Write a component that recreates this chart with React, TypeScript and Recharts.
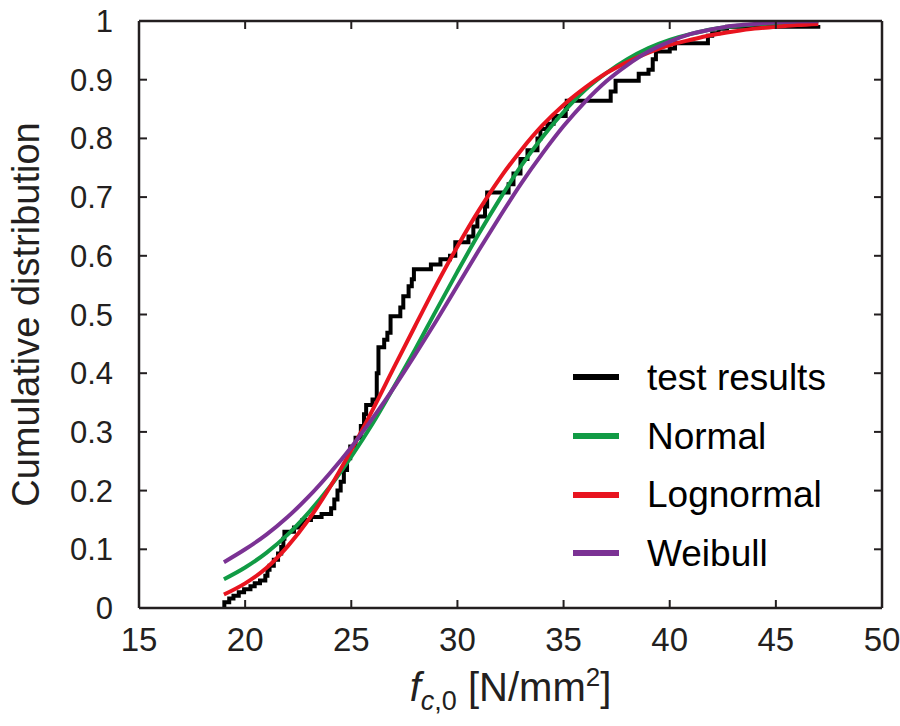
import React from 'react';
import { LineChart, Line, XAxis, YAxis, Legend } from 'recharts';

// Empirical CDF of test results (jump positions and cumulative values)
const testX = [19.0, 19.02, 19.25, 19.45, 19.7, 19.95, 20.25, 20.45, 20.7, 20.95, 21.05, 21.15, 21.35, 21.55, 21.7, 21.8, 21.85, 22.3, 22.55, 22.7, 23.1, 23.6, 24.05, 24.2, 24.35, 24.5, 24.65, 24.8, 24.95, 25.2, 25.45, 25.6, 25.7, 26.0, 26.2, 26.28, 26.55, 26.7, 26.85, 27.31, 27.45, 27.7, 27.85, 27.95, 28.75, 29.2, 29.65, 29.9, 30.52, 30.75, 30.94, 31.3, 31.4, 32.41, 32.64, 32.97, 33.3, 33.77, 33.91, 34.24, 34.53, 35.1, 35.15, 37.22, 37.45, 38.54, 39.0, 39.2, 39.35, 40.0, 40.25, 41.8, 42.0, 42.3, 42.7, 47.0];
const testY = [0, 0.01, 0.016, 0.021, 0.027, 0.032, 0.037, 0.042, 0.047, 0.055, 0.065, 0.072, 0.082, 0.093, 0.104, 0.118, 0.13, 0.137, 0.143, 0.15, 0.155, 0.16, 0.17, 0.185, 0.2, 0.215, 0.235, 0.255, 0.275, 0.29, 0.31, 0.33, 0.346, 0.355, 0.4, 0.444, 0.457, 0.469, 0.497, 0.512, 0.531, 0.548, 0.56, 0.577, 0.585, 0.594, 0.6, 0.623, 0.633, 0.65, 0.667, 0.684, 0.708, 0.722, 0.74, 0.765, 0.78, 0.8, 0.816, 0.825, 0.838, 0.85, 0.864, 0.88, 0.898, 0.91, 0.917, 0.935, 0.948, 0.953, 0.962, 0.975, 0.979, 0.987, 0.99, 0.993];

// Fitted distribution curves, read at x = 19..47
const fitX = [19, 20, 21, 22, 23, 24, 25, 26, 27, 28, 29, 30, 31, 32, 33, 34, 35, 36, 37, 38, 39, 40, 41, 42, 43, 44, 45, 46, 47];
const normalY = [0.049, 0.069, 0.094, 0.125, 0.163, 0.207, 0.258, 0.314, 0.376, 0.44, 0.507, 0.573, 0.637, 0.697, 0.753, 0.802, 0.845, 0.882, 0.911, 0.935, 0.954, 0.968, 0.978, 0.986, 0.991, 0.994, 0.996, 0.998, 0.999];
const lognormalY = [0.023, 0.042, 0.068, 0.105, 0.151, 0.206, 0.269, 0.337, 0.409, 0.48, 0.55, 0.616, 0.677, 0.732, 0.78, 0.822, 0.857, 0.886, 0.911, 0.93, 0.946, 0.959, 0.968, 0.976, 0.982, 0.987, 0.99, 0.993, 0.995];
const weibullY = [0.078, 0.1, 0.125, 0.155, 0.19, 0.23, 0.274, 0.323, 0.375, 0.431, 0.489, 0.549, 0.609, 0.667, 0.723, 0.774, 0.821, 0.862, 0.897, 0.925, 0.948, 0.965, 0.978, 0.986, 0.992, 0.995, 0.998, 0.999, 0.9995];

const xTicks = [15, 20, 25, 30, 35, 40, 45, 50];
const yTicks = [0, 0.1, 0.2, 0.3, 0.4, 0.5, 0.6, 0.7, 0.8, 0.9, 1];

const seriesNames = ['test results', 'Normal', 'Lognormal', 'Weibull'];
const seriesColors = ['#000000', '#119B45', '#E8141F', '#7B3294'];

const INK = '#231F20';
const FONT = '"Liberation Sans", Arial, Helvetica, sans-serif';

const testData = testX.map((x, i) => ({ x, y: testY[i] }));
const normalData = fitX.map((x, i) => ({ x, y: normalY[i] }));
const lognormalData = fitX.map((x, i) => ({ x, y: lognormalY[i] }));
const weibullData = fitX.map((x, i) => ({ x, y: weibullY[i] }));

const BottomTick = (props: any) => {
  const { x, y, payload } = props;
  return (
    <g>
      <line x1={x} y1={y} x2={x} y2={y - 8} stroke={INK} strokeWidth={2} />
      <text x={x} y={y + 43} textAnchor="middle" fontSize={33} fontFamily={FONT} fill={INK}>
        {payload.value}
      </text>
    </g>
  );
};

const LeftTick = (props: any) => {
  const { x, y, payload } = props;
  return (
    <g>
      <line x1={x} y1={y} x2={x + 8} y2={y} stroke={INK} strokeWidth={2} />
      <text x={x - 26} y={y + 11} textAnchor="end" fontSize={31} fontFamily={FONT} fill={INK}>
        {payload.value}
      </text>
    </g>
  );
};

const TopTick = (props: any) => {
  const { x, y } = props;
  return <line x1={x} y1={y} x2={x} y2={y + 8} stroke={INK} strokeWidth={2} />;
};

const RightTick = (props: any) => {
  const { x, y } = props;
  return <line x1={x} y1={y} x2={x - 8} y2={y} stroke={INK} strokeWidth={2} />;
};

const XAxisLabel = (props: any) => {
  const vb = props.viewBox || {};
  const cx = vb.x + vb.width / 2;
  const y = vb.y + 93;
  return (
    <text x={cx} y={y} textAnchor="middle" fontSize={40} fontFamily={FONT} fill={INK}>
      <tspan fontStyle="italic">f</tspan>
      <tspan fontSize={27} dy={9} fontStyle="italic">c</tspan>
      <tspan fontSize={27}>,0</tspan>
      <tspan dy={-9}> [N/mm</tspan>
      <tspan fontSize={26} dy={-15}>2</tspan>
      <tspan dy={15}>]</tspan>
    </text>
  );
};

const YAxisLabel = (props: any) => {
  const vb = props.viewBox || {};
  const cy = vb.y + vb.height / 2;
  const x = 39;
  return (
    <text
      x={x}
      y={cy}
      transform={`rotate(-90, ${x}, ${cy})`}
      textAnchor="middle"
      fontSize={38}
      fontFamily={FONT}
      fill={INK}
    >
      Cumulative distribution
    </text>
  );
};

const LegendContent = (props: any) => {
  const payload = [...(props.payload || [])].sort(
    (a: any, b: any) => seriesNames.indexOf(a.value) - seriesNames.indexOf(b.value)
  );
  return (
    <div style={{ display: 'flex', flexDirection: 'column' }}>
      {payload.map((e: any) => (
        <div key={e.value} style={{ height: 58.7, display: 'flex', alignItems: 'center' }}>
          <span
            style={{
              display: 'inline-block',
              width: 46,
              height: 6,
              background: e.color,
              marginLeft: 8,
              marginRight: 28,
            }}
          />
          <span style={{ fontSize: 37, fontFamily: FONT, color: '#000', lineHeight: 1 }}>{e.value}</span>
        </div>
      ))}
    </div>
  );
};

export default function App() {
  const axisLine = { stroke: INK, strokeWidth: 2.5 };
  return (
    <div style={{ position: 'absolute', left: 0, top: 0, width: 900, height: 726, background: '#fff' }}>
      <LineChart width={900} height={726} margin={{ top: 21, right: 18, bottom: 0, left: 0 }}>
        <XAxis
          xAxisId={0}
          dataKey="x"
          type="number"
          domain={[15, 50]}
          ticks={xTicks}
          allowDataOverflow
          height={118}
          tickSize={0}
          tickMargin={0}
          tickLine={false}
          axisLine={axisLine}
          tick={BottomTick}
          label={<XAxisLabel />}
        />
        <XAxis
          xAxisId="top"
          orientation="top"
          dataKey="x"
          type="number"
          domain={[15, 50]}
          ticks={xTicks}
          allowDataOverflow
          height={1}
          mirror
          tickSize={0}
          tickMargin={0}
          tickLine={false}
          axisLine={axisLine}
          tick={TopTick}
        />
        <YAxis
          yAxisId={0}
          type="number"
          domain={[0, 1]}
          ticks={yTicks}
          allowDataOverflow
          width={139}
          tickSize={0}
          tickMargin={0}
          tickLine={false}
          axisLine={axisLine}
          tick={LeftTick}
          label={<YAxisLabel />}
        />
        <YAxis
          yAxisId="right"
          orientation="right"
          type="number"
          domain={[0, 1]}
          ticks={yTicks}
          allowDataOverflow
          width={1}
          mirror
          tickSize={0}
          tickMargin={0}
          tickLine={false}
          axisLine={axisLine}
          tick={RightTick}
        />
        <Legend
          layout="vertical"
          align="center"
          verticalAlign="middle"
          content={<LegendContent />}
          wrapperStyle={{ left: 565, top: 348, width: 330 }}
        />
        <Line
          data={testData}
          dataKey="y"
          name={seriesNames[0]}
          type="stepAfter"
          stroke={seriesColors[0]}
          strokeWidth={4}
          dot={false}
          activeDot={false}
          isAnimationActive={false}
        />
        <Line
          data={normalData}
          dataKey="y"
          name={seriesNames[1]}
          type="monotone"
          stroke={seriesColors[1]}
          strokeWidth={4}
          dot={false}
          activeDot={false}
          isAnimationActive={false}
        />
        <Line
          data={lognormalData}
          dataKey="y"
          name={seriesNames[2]}
          type="monotone"
          stroke={seriesColors[2]}
          strokeWidth={4}
          dot={false}
          activeDot={false}
          isAnimationActive={false}
        />
        <Line
          data={weibullData}
          dataKey="y"
          name={seriesNames[3]}
          type="monotone"
          stroke={seriesColors[3]}
          strokeWidth={4}
          dot={false}
          activeDot={false}
          isAnimationActive={false}
        />
      </LineChart>
    </div>
  );
}
